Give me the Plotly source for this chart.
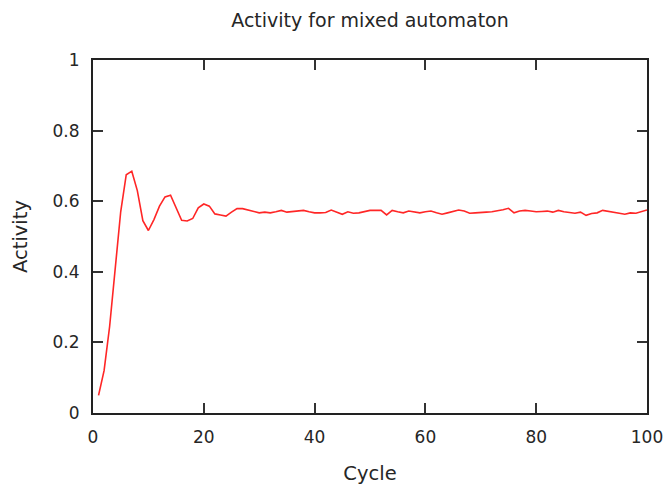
import plotly.graph_objects as go

cycles = list(range(1, 101))
activity = [
    0.05, 0.12, 0.245, 0.40, 0.57, 0.675, 0.685, 0.63, 0.545, 0.517,
    0.548, 0.586, 0.612, 0.617, 0.581, 0.546, 0.544, 0.551, 0.581, 0.592,
    0.586, 0.564, 0.561, 0.558, 0.569, 0.579, 0.579, 0.575, 0.569, 0.567,
    0.569, 0.567, 0.570, 0.574, 0.569, 0.571, 0.572, 0.574, 0.570, 0.567,
    0.567, 0.568, 0.575, 0.570, 0.563, 0.570, 0.566, 0.567, 0.570, 0.574,
    0.574, 0.574, 0.561, 0.574, 0.570, 0.567, 0.572, 0.570, 0.567, 0.570,
    0.572, 0.567, 0.563, 0.567, 0.572, 0.575, 0.572, 0.566, 0.567, 0.567,
    0.569, 0.570, 0.572, 0.576, 0.580, 0.567, 0.572, 0.574, 0.572, 0.570,
    0.571, 0.572, 0.569, 0.574, 0.570, 0.567, 0.566, 0.569, 0.560, 0.565,
    0.567, 0.574, 0.572, 0.569, 0.566, 0.563, 0.567, 0.566, 0.570, 0.575,
]
x_ticks = [0, 20, 40, 60, 80, 100]
y_ticks = [0, 0.2, 0.4, 0.6, 0.8, 1]
y_tick_labels = ["0", "0.2", "0.4", "0.6", "0.8", "1"]

FONT = "DejaVu Sans, Liberation Sans, Arial"
TXT = "#262626"

fig = go.Figure()
fig.add_trace(go.Scatter(x=cycles, y=activity, mode="lines",
                         line=dict(color="#ff2626", width=1.6), showlegend=False))

axis_common = dict(showline=True, linecolor="#222", linewidth=2, mirror="ticks",
                   ticks="inside", ticklen=10, tickwidth=1.5, tickcolor="#333",
                   showgrid=False, zeroline=False, automargin=False,
                   ticklabelstandoff=8,
                   tickfont=dict(family=FONT, size=17, color=TXT))

fig.update_layout(
    width=665, height=485,
    margin=dict(l=93, r=18, t=60, b=72),
    paper_bgcolor="white", plot_bgcolor="white",
    title=dict(text="Activity for mixed automaton", x=0.5, xref="paper",
               y=1 - 20 / 485, yref="container", yanchor="middle",
               font=dict(family=FONT, size=19, color=TXT)),
    xaxis=dict(range=[0, 100], tickvals=x_ticks,
               title=dict(text="Cycle", standoff=28, font=dict(family=FONT, size=19.5, color=TXT)),
               **axis_common),
    yaxis=dict(range=[0, 1], tickvals=y_ticks, ticktext=y_tick_labels,
               title=dict(text="Activity", standoff=20, font=dict(family=FONT, size=19.5, color=TXT)),
               **axis_common),
)

fig.write_html("out.html", config={"displayModeBar": False},
               post_script="document.body.style.margin='0';document.body.style.overflow='hidden';")
